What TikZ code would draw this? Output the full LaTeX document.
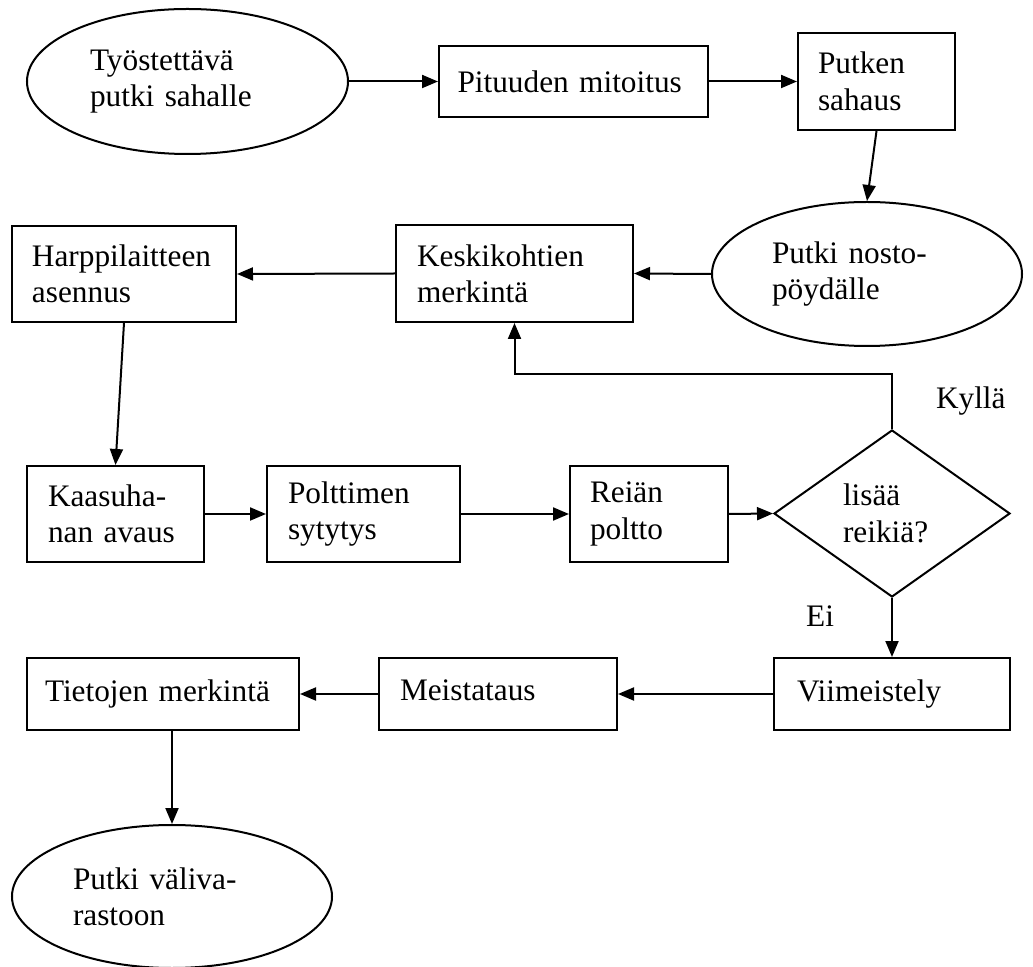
\documentclass[tikz,border=0pt]{standalone}
\usepackage{fontspec}
\setmainfont{Liberation Serif}
\usetikzlibrary{shapes.geometric, arrows.meta}
\hyphenpenalty=10000
\tikzset{
    box/.style={draw, rectangle, align=left, inner sep=0pt},
    oval/.style={draw, ellipse, align=left, inner sep=0pt},
    choice/.style={draw, diamond, align=left, inner sep=0pt},
}
\begin{document}
\begin{tikzpicture}[x=0.5pt, y=-0.5pt, line width=1pt, >={Triangle[length=8pt, width=6.5pt]}, font=\fontsize{15.65}{18.2}\selectfont]
        \useasboundingbox (0, 0) rectangle (1033, 967);
        \node[oval, minimum width=160.5pt, minimum height=72.5pt, text width=97.5pt] (saw) at (187.5, 81.5) {Työstettävä\\putki sahalle};
        \node[box, minimum width=134.5pt, minimum height=35.5pt, text width=116pt] (mitoitus) at (573.5, 81.5) {Pituuden mitoitus};
        \node[box, minimum width=78.5pt, minimum height=48.5pt, text width=58.5pt] (sahaus) at (876.5, 81.5) {Putken\\sahaus};
        \node[oval, minimum width=155pt, minimum height=72pt, text width=95pt] (nosto) at (867, 274) {Putki nosto-\\pöydälle};
        \node[box, minimum width=118.5pt, minimum height=48.5pt, text width=97.5pt] (keski) at (514.5, 273.5) {Keskikohtien\\merkintä};
        \node[box, minimum width=112pt, minimum height=48pt, text width=92pt] (harppi) at (124, 274) {Harppilaitteen\\asennus};
        
        \node[box, minimum width=88.5pt, minimum height=48pt, text width=67.5pt] (kaasu) at (115.5, 514) {Kaasuha-\\nan avaus};
        \node[box, minimum width=96.5pt, minimum height=48pt, text width=75.5pt] (poltin) at (363.5, 514) {Polttimen\\sytytys};
        \node[box, minimum width=79pt, minimum height=48pt, text width=59pt] (reika) at (649, 514) {Reiän\\poltto};
        \node[choice, minimum width=118pt, minimum height=83.5pt, text width=49pt] (lisaa) at (892, 513.5) {lisää\\reikiä?};
        
        \node[box, minimum width=118pt, minimum height=36pt, text width=95pt] (viim) at (892, 694) {Viimeistely};
        \node[box, minimum width=119pt, minimum height=36pt, text width=98pt, text depth=3.4pt] (meist) at (498, 694) {Meistataus};
        \node[box, minimum width=136pt, minimum height=36pt, text width=118pt] (tieto) at (163, 694) {Tietojen merkintä};
        \node[oval, minimum width=160pt, minimum height=71.5pt, text width=99pt] (varasto) at (172, 896.5) {Putki väliva-\\rastoon};
        
        \draw[->] (saw.east) -- (mitoitus.west);
        \draw[->] (mitoitus.east) -- (sahaus.west);
        \draw[->] (sahaus.south) -- (nosto.north);
        \draw[->] (nosto.west) -- (keski.east);
        \draw[->] (keski.west) -- (harppi.east);
        \draw[->] (harppi.south) -- (kaasu.north);
        
        \draw[->] (kaasu.east) -- (poltin.west);
        \draw[->] (poltin.east) -- (reika.west);
        \draw[->] (reika.east) -- (lisaa.west);
        \draw[->] (lisaa.north) -- node[right=21.5pt, inner sep=0pt] (kylla) {Kyllä} ++(0, -55) -| (keski.south);
        \draw[->] (lisaa.south) -- node[left=28.5pt, pos=0.3, inner sep=0pt] (ei) {Ei} (viim.north);
        
        \draw[->] (viim.west) -- (meist.east);
        \draw[->] (meist.west) -- (tieto.east);
        \draw[->] (varasto.north |- tieto.south) -- (varasto.north);
    \end{tikzpicture}
\end{document}
